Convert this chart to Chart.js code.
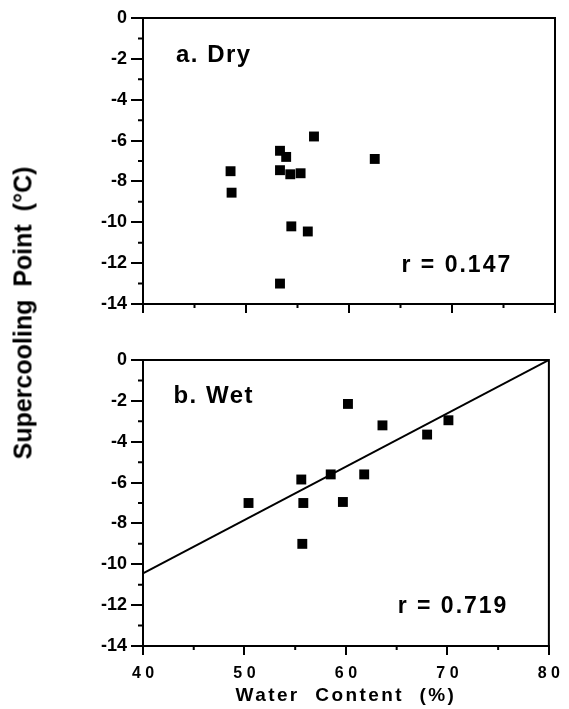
<!DOCTYPE html>
<html>
<head>
<meta charset="utf-8">
<script src="https://cdn.jsdelivr.net/npm/chart.js@4.4.0/dist/chart.umd.min.js"></script>
<style>
  body { margin: 0; background: #fff; }
  #wrap { position: relative; width: 569px; height: 709px; }
  canvas { position: absolute; left: 0; }
  #dry { top: 0; }
  #wet { top: 330px; }
  #ytitle {
    position: absolute; left: 23px; top: 313px;
    transform: translate(-50%, -50%) rotate(-90deg);
    font: bold 25px "Liberation Sans", Arial, sans-serif;
    white-space: nowrap; word-spacing: 6px; color: #000;
  }
</style>
</head>
<body>
<div id="wrap">
  <canvas id="dry" width="569" height="320"></canvas>
  <canvas id="wet" width="569" height="379"></canvas>
  <div id="ytitle">Supercooling Point (°C)</div>
</div>
<script>
// a. Dry
const dryWater = [48.5, 48.6, 53.3, 53.9, 53.3, 54.3, 55.3, 56.6, 62.5, 54.4, 56.0, 53.3]
const drySCP   = [-7.5, -8.55, -6.5, -6.8, -7.45, -7.65, -7.6, -5.8, -6.9, -10.2, -10.45, -13.0]

// b. Wet
const wetWater = [50.4, 55.6, 55.8, 55.7, 58.5, 59.7, 60.2, 61.8, 63.6, 68.0, 70.1]
const wetSCP   = [-7.0, -5.85, -7.0, -9.0, -5.6, -6.95, -2.15, -5.6, -3.2, -3.65, -2.95]

// regression line, wet panel
const fitWater = [40, 80]
const fitSCP   = [-10.45, 0]

const xRange = [40, 80]
const yRange = [-14, 0]
const rDry = 'r = 0.147'
const rWet = 'r = 0.719'

const FONT = '"Liberation Sans", Arial, sans-serif'

const toPoints = (xs, ys) => xs.map((x, i) => ({ x: x, y: ys[i] }))

// box frame, minor ticks and the text inside the panels
const framePlugin = {
  id: 'frame',
  afterDraw(chart, args, opts) {
    const { ctx, chartArea: a, scales: { x, y } } = chart
    ctx.save()
    ctx.strokeStyle = '#000'
    ctx.lineWidth = 2
    ctx.beginPath()
    ctx.moveTo(a.left, a.top)
    ctx.lineTo(a.right, a.top)
    ctx.lineTo(a.right, a.bottom)
    for (let v = y.min + 1; v < y.max; v += 2) {
      const py = y.getPixelForValue(v)
      ctx.moveTo(a.left - 5, py)
      ctx.lineTo(a.left, py)
    }
    for (let v = x.min + 5; v < x.max; v += 10) {
      const px = x.getPixelForValue(v)
      ctx.moveTo(px, a.bottom)
      ctx.lineTo(px, a.bottom + 4)
    }
    ctx.stroke()

    ctx.fillStyle = '#000'
    ctx.textBaseline = 'alphabetic'
    ;(opts.texts || []).forEach(t => {
      ctx.font = t.font
      ctx.letterSpacing = t.spacing || '0px'
      ctx.wordSpacing = t.word || '0px'
      ctx.textAlign = t.align || 'left'
      ctx.fillText(t.text, x.getPixelForValue(t.xv), a.top + t.dy)
    })
    ctx.restore()
  }
}

function makePanel(id, datasets, texts, xHeight, padTop, showXLabels) {
  return new Chart(document.getElementById(id), {
    type: 'scatter',
    data: { datasets: datasets },
    plugins: [framePlugin],
    options: {
      responsive: false,
      devicePixelRatio: 1,
      animation: false,
      events: [],
      layout: { padding: { top: padTop, right: 14, left: 0, bottom: 0 } },
      plugins: {
        legend: { display: false },
        tooltip: { enabled: false },
        frame: { texts: texts }
      },
      scales: {
        x: {
          type: 'linear',
          min: xRange[0],
          max: xRange[1],
          afterFit: s => { s.height = xHeight },
          border: { color: '#000', width: 2 },
          grid: { drawOnChartArea: false, color: '#000', lineWidth: 2, tickLength: 9 },
          ticks: {
            display: showXLabels,
            stepSize: 10,
            color: '#000',
            padding: 9,
            font: { family: FONT, size: 16, weight: 'bold' },
            callback: v => String(v).split('').join(' ')
          }
        },
        y: {
          min: yRange[0],
          max: yRange[1],
          afterFit: s => { s.width = 143 },
          border: { color: '#000', width: 2 },
          grid: { drawOnChartArea: false, color: '#000', lineWidth: 2, tickLength: 12 },
          ticks: {
            stepSize: 2,
            color: '#000',
            padding: 4,
            font: { family: FONT, size: 18, weight: 'bold' }
          }
        }
      }
    }
  })
}

const pointStyle = {
  pointStyle: 'rect',
  pointRadius: 7,
  backgroundColor: '#000',
  borderColor: '#000',
  borderWidth: 0
}

makePanel('dry', [
  Object.assign({ label: 'Dry', data: toPoints(dryWater, drySCP) }, pointStyle)
], [
  { text: 'a. Dry', xv: 43.2, dy: 44, font: `bold 24px ${FONT}`, spacing: '1.5px' },
  { text: rDry, xv: 65.1, dy: 254, font: `bold 23px ${FONT}`, spacing: '2px' }
], 16, 18, false)

makePanel('wet', [
  Object.assign({ label: 'Wet', data: toPoints(wetWater, wetSCP) }, pointStyle),
  {
    label: 'Fit',
    data: toPoints(fitWater, fitSCP),
    showLine: true,
    borderColor: '#000',
    borderWidth: 2,
    pointRadius: 0
  }
], [
  { text: 'b. Wet', xv: 43.0, dy: 43, font: `bold 24px ${FONT}`, spacing: '1.5px' },
  { text: rWet, xv: 65.1, dy: 253, font: `bold 23px ${FONT}`, spacing: '2px' },
  { text: 'Water Content (%)', xv: 60, dy: 341, font: `bold 19px ${FONT}`, spacing: '2.4px', word: '8px', align: 'center' }
], 63, 30, true)
</script>
</body>
</html>
